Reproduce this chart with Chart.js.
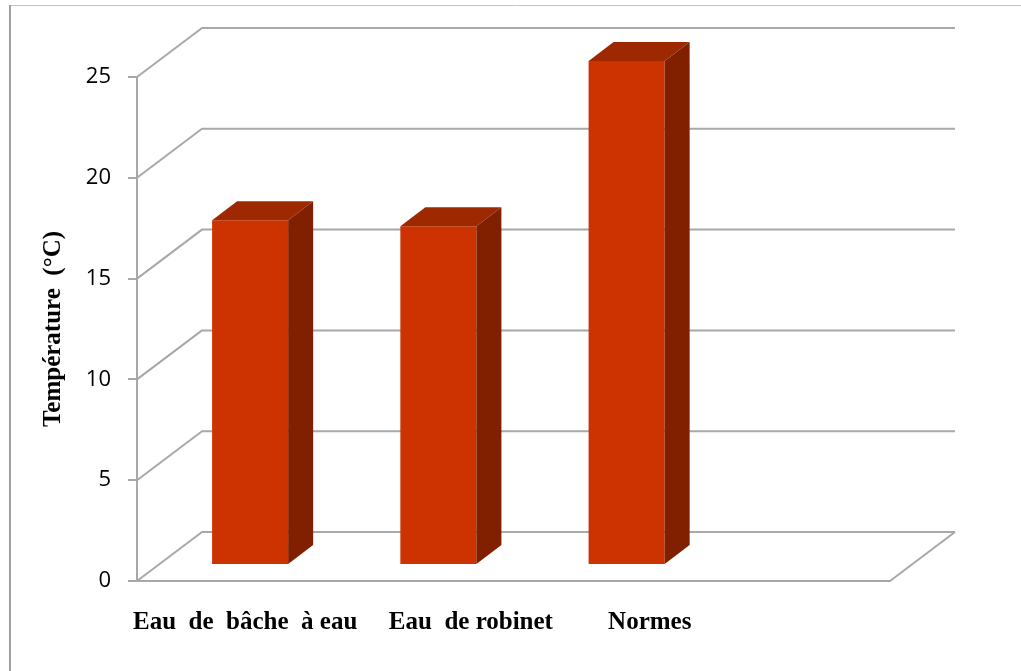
<!DOCTYPE html>
<html lang="fr">
<head>
    <meta charset="UTF-8">
    <title>Température</title>
    <script src="https://cdn.jsdelivr.net/npm/chart.js"></script>
    <style>
        html, body { margin: 0; padding: 0; background: #fff; }
        #wrap { width: 1021px; height: 671px; position: relative; }
    </style>
</head>
<body>
    <div id="wrap"><canvas id="tempChart"></canvas></div>

    <script>
        // Categories (the last slot is empty, as in the workbook; labels keep their leading spaces)
        const categories = ['Eau  de  bâche  à eau', '            Eau  de robinet', '         Normes', ''];
        const temperatures = [17.1, 16.8, 25, null];
        const yTicks = { min: 0, max: 25, step: 5 };

        // Depth of the whole plot box and of the bars
        const WALL_DX = 65, WALL_DY = -49;
        const FRONT_DX = 19, FRONT_DY = -16;
        const BAR_DX = 25, BAR_DY = -19;
        const GRID_COLOR = '#a8a8a8';

        const frame = {
            id: 'frame',
            beforeDraw(chart) {
                const ctx = chart.ctx;
                ctx.save();
                ctx.lineWidth = 1;
                ctx.strokeStyle = '#c4c4c4';
                ctx.beginPath();
                ctx.moveTo(10, 5.5);
                ctx.lineTo(chart.width, 5.5);
                ctx.stroke();
                ctx.strokeStyle = '#a0a0a0';
                ctx.lineWidth = 2;
                ctx.beginPath();
                ctx.moveTo(10, 5);
                ctx.lineTo(10, chart.height);
                ctx.stroke();
                ctx.restore();
            }
        };

        // Back wall, side wall and floor lines
        const walls = {
            id: 'walls',
            beforeDatasetsDraw(chart) {
                const { ctx, chartArea: a } = chart;
                const y = chart.scales.y;
                ctx.save();
                ctx.strokeStyle = GRID_COLOR;
                ctx.lineWidth = 2;
                ctx.lineJoin = 'round';
                y.ticks.forEach(t => {
                    const py = y.getPixelForValue(t.value);
                    ctx.beginPath();
                    ctx.moveTo(a.left, py);
                    ctx.lineTo(a.left + WALL_DX, py + WALL_DY);
                    ctx.lineTo(a.right + WALL_DX, py + WALL_DY);
                    ctx.stroke();
                });
                ctx.beginPath();
                ctx.moveTo(a.left, a.bottom);
                ctx.lineTo(a.right, a.bottom);
                ctx.lineTo(a.right + WALL_DX, a.bottom + WALL_DY);
                ctx.stroke();
                ctx.restore();
            }
        };

        // Push the bars into the box and add top and side faces
        const bars3d = {
            id: 'bars3d',
            beforeDatasetDraw(chart) {
                chart.ctx.save();
                chart.ctx.translate(FRONT_DX, FRONT_DY);
            },
            afterDatasetDraw(chart, args) {
                const ctx = chart.ctx;
                const ds = chart.data.datasets[args.index];
                args.meta.data.forEach((bar, i) => {
                    if (ds.data[i] == null) return;
                    const { x, y, base, width } = bar.getProps(['x', 'y', 'base', 'width'], true);
                    const l = x - width / 2, r = x + width / 2;
                    ctx.fillStyle = ds.topColor;
                    ctx.beginPath();
                    ctx.moveTo(l, y);
                    ctx.lineTo(l + BAR_DX, y + BAR_DY);
                    ctx.lineTo(r + BAR_DX, y + BAR_DY);
                    ctx.lineTo(r, y);
                    ctx.closePath();
                    ctx.fill();
                    ctx.fillStyle = ds.sideColor;
                    ctx.beginPath();
                    ctx.moveTo(r, y);
                    ctx.lineTo(r + BAR_DX, y + BAR_DY);
                    ctx.lineTo(r + BAR_DX, base + BAR_DY);
                    ctx.lineTo(r, base);
                    ctx.closePath();
                    ctx.fill();
                });
                ctx.restore();
            }
        };

        new Chart(document.getElementById('tempChart'), {
            type: 'bar',
            data: {
                labels: categories,
                datasets: [{
                    data: temperatures,
                    backgroundColor: '#cc3300',
                    topColor: '#9e2800',
                    sideColor: '#802000',
                    borderWidth: 0,
                    barPercentage: 0.404,
                    categoryPercentage: 1,
                    clip: false
                }]
            },
            options: {
                responsive: true,
                maintainAspectRatio: false,
                animation: false,
                layout: { padding: { left: 0, right: 131, top: 77, bottom: 0 } },
                plugins: { legend: { display: false }, tooltip: { enabled: false } },
                scales: {
                    x: {
                        grid: { display: false, drawTicks: false },
                        border: { display: false },
                        afterFit(scale) { scale.height = 90; },
                        ticks: {
                            padding: 27,
                            labelOffset: 14,
                            maxRotation: 0,
                            autoSkip: false,
                            color: '#000',
                            font: { family: '"Liberation Serif", "Times New Roman", serif', size: 25, weight: 'bold' }
                        }
                    },
                    y: {
                        min: yTicks.min,
                        max: yTicks.max,
                        afterFit(scale) { scale.width = 137; },
                        grid: { display: true, drawOnChartArea: false, drawTicks: true, tickLength: 9, color: GRID_COLOR, lineWidth: 2 },
                        border: { display: true, color: GRID_COLOR, width: 2 },
                        ticks: {
                            stepSize: yTicks.step,
                            padding: 17,
                            color: '#000',
                            font: { family: '"Open Sans", sans-serif', size: 22 }
                        },
                        title: {
                            display: true,
                            text: 'Température  (°C)',
                            color: '#000',
                            padding: { top: 39, bottom: 0 },
                            font: { family: '"Liberation Serif", "Times New Roman", serif', size: 25, weight: 'bold' }
                        }
                    }
                }
            },
            plugins: [frame, walls, bars3d]
        });
    </script>
</body>
</html>
